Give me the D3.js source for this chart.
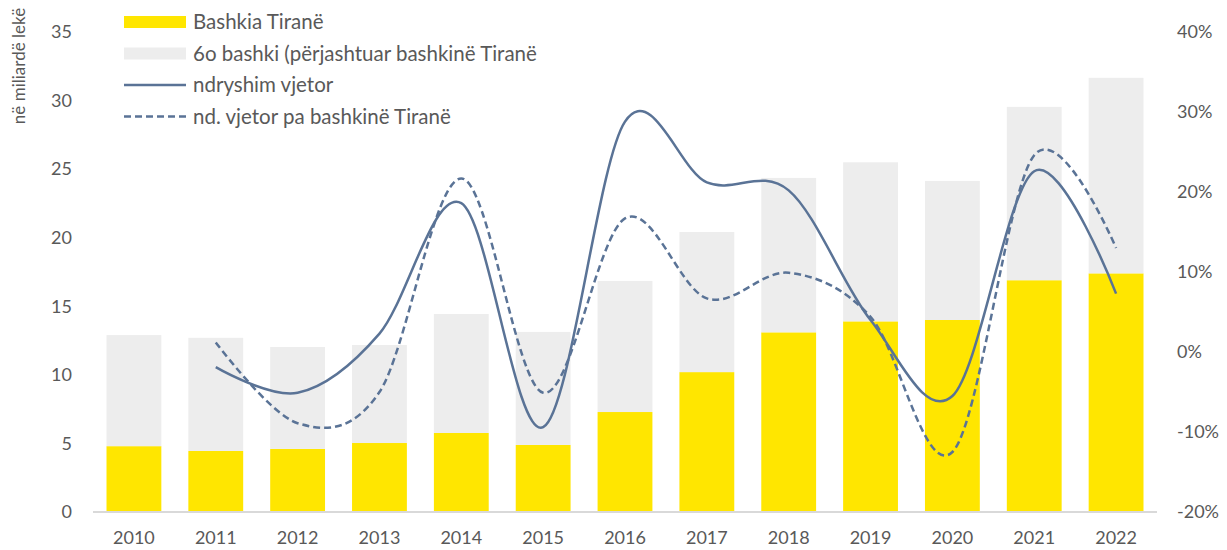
<!DOCTYPE html>
<html>
<head>
<meta charset="utf-8">
<script src="https://cdn.jsdelivr.net/npm/d3@7"></script>
<style>
  body { margin: 0; background: #fff; }
  svg text { font-family: Lato, "Open Sans", sans-serif; fill: #595959; }
</style>
</head>
<body>
<script>
// data
const years = ['2010','2011','2012','2013','2014','2015','2016','2017','2018','2019','2020','2021','2022'];
const tirana = [4.8, 4.45, 4.6, 5.03, 5.76, 4.89, 7.29, 10.2, 13.1, 13.9, 14.0, 16.9, 17.4];
const others = [8.1, 8.25, 7.43, 7.15, 8.68, 8.24, 9.56, 10.22, 11.26, 11.6, 10.14, 12.64, 14.26];
// annual change, % (no value for 2010)
const changeAll = [null, -1.9, -5.1, 2.3, 18.6, -9.4, 28.8, 21.2, 20.2, 4.0, -5.5, 22.6, 7.3];
const changeNoTirana = [null, 1.2, -8.9, -5.0, 21.7, -5.1, 16.7, 6.7, 9.9, 4.4, -12.5, 24.6, 13.0];
const leftTicks = [0, 5, 10, 15, 20, 25, 30, 35];
const rightTicks = [-20, -10, 0, 10, 20, 30, 40];
const legendLabels = ['Bashkia Tiranë', '6o bashki (përjashtuar bashkinë Tiranë', 'ndryshim vjetor', 'nd. vjetor pa bashkinë Tiranë'];
const yTitle = 'në miliardë lekë';

const W = 1227, H = 550;
const yellow = '#FFE600', grey = '#EDEDED', lineCol = '#5A7396';

const svg = d3.select('body').append('svg')
    .attr('width', W)
    .attr('height', H);

const x = d3.scaleBand().domain(years).range([93, 1157])
    .paddingInner(0.33).paddingOuter(0.165);
const yL = d3.scaleLinear().domain([0, 35]).range([512, 32]);
const yR = d3.scaleLinear().domain([-20, 40]).range([512, 32]);

// stacked bars
const rows = years.map((yr, i) => ({ year: yr, tirana: tirana[i], others: others[i] }));
const stack = d3.stack().keys(['tirana', 'others'])(rows);
const colors = { tirana: yellow, others: grey };

svg.append('g').selectAll('g')
    .data(stack)
    .join('g')
    .attr('fill', d => colors[d.key])
    .selectAll('rect')
    .data(d => d)
    .join('rect')
    .attr('x', d => x(d.data.year))
    .attr('width', x.bandwidth())
    .attr('y', d => yL(d[1]))
    .attr('height', d => yL(d[0]) - yL(d[1]));

// baseline
svg.append('line')
    .attr('x1', 93).attr('x2', 1157)
    .attr('y1', yL(0)).attr('y2', yL(0))
    .attr('stroke', '#D9D9D9')
    .attr('stroke-width', 2);

// smoothed lines
const line = d3.line()
    .defined(d => d.v != null)
    .x(d => x(d.year) + x.bandwidth() / 2)
    .y(d => yR(d.v))
    .curve(d3.curveCardinal.tension(0));

svg.append('path')
    .datum(years.map((yr, i) => ({ year: yr, v: changeAll[i] })))
    .attr('d', line)
    .attr('fill', 'none')
    .attr('stroke', lineCol)
    .attr('stroke-width', 2.5);

svg.append('path')
    .datum(years.map((yr, i) => ({ year: yr, v: changeNoTirana[i] })))
    .attr('d', line)
    .attr('fill', 'none')
    .attr('stroke', lineCol)
    .attr('stroke-width', 2.5)
    .attr('stroke-dasharray', '7,4');

// axes
const axL = svg.append('g')
    .attr('transform', 'translate(72,0)')
    .call(d3.axisLeft(yL).tickValues(leftTicks).tickSize(0).tickPadding(0));
const axR = svg.append('g')
    .attr('transform', 'translate(1177,0)')
    .call(d3.axisRight(yR).tickValues(rightTicks).tickSize(0).tickPadding(0)
        .tickFormat(d => d + '%'));
const axB = svg.append('g')
    .attr('transform', 'translate(0,531)')
    .call(d3.axisBottom(x).tickSize(0).tickPadding(0));

[axL, axR, axB].forEach(a => {
    a.select('.domain').remove();
    a.selectAll('text')
        .attr('fill', '#595959')
        .style('font-size', '18px');
});

// y title
svg.append('text')
    .attr('transform', 'translate(25,66) rotate(-90)')
    .attr('text-anchor', 'middle')
    .style('font-size', '17px')
    .text(yTitle);

// legend
const legend = svg.append('g');
legendLabels.forEach((lab, i) => {
    const cy = 22 + i * 31.5;
    const g = legend.append('g');
    if (i < 2) {
        g.append('rect')
            .attr('x', 124).attr('y', cy - 6)
            .attr('width', 62).attr('height', 12)
            .attr('fill', i == 0 ? yellow : grey);
    } else {
        g.append('line')
            .attr('x1', 124).attr('x2', 186)
            .attr('y1', cy).attr('y2', cy)
            .attr('stroke', lineCol)
            .attr('stroke-width', 2.5)
            .attr('stroke-dasharray', i == 3 ? '7,4' : null);
    }
    g.append('text')
        .attr('x', 193).attr('y', cy + 7)
        .style('font-size', '20.5px')
        .text(lab);
});
</script>
</body>
</html>
